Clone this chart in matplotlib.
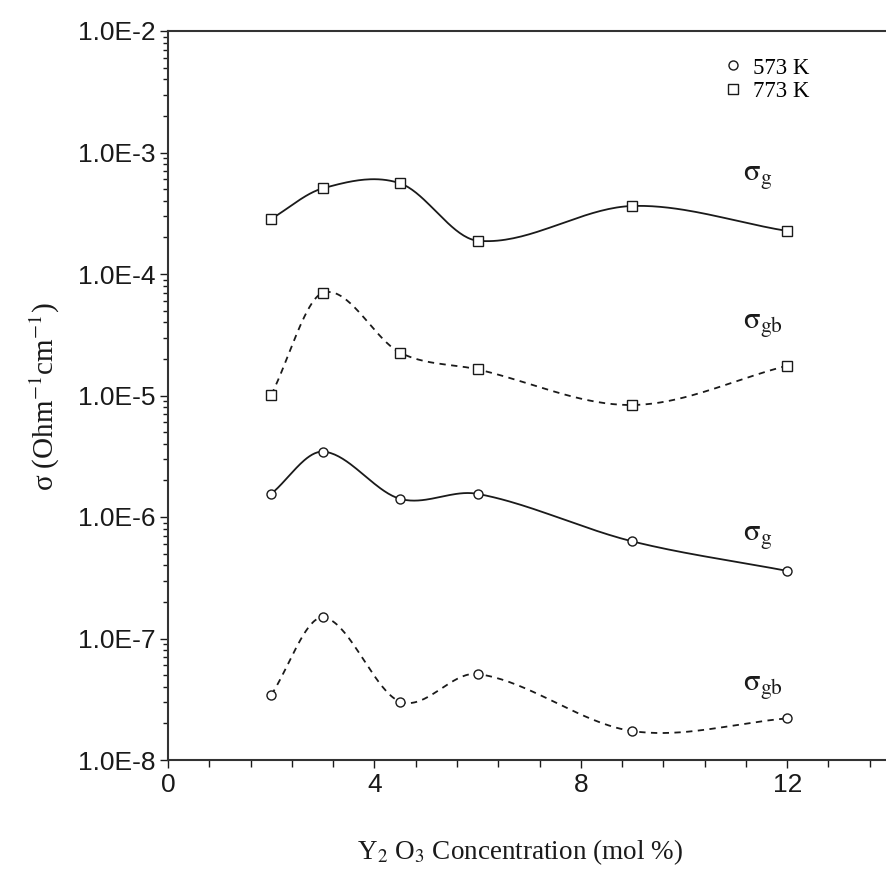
import numpy as np
import matplotlib
matplotlib.use('Agg')
import matplotlib.pyplot as plt
from matplotlib.ticker import LogLocator, FuncFormatter, MultipleLocator, NullFormatter
from matplotlib.lines import Line2D

# Y2O3 concentration (mol %)
conc = [2, 3, 4.5, 6, 9, 12]

# conductivities (Ohm^-1 cm^-1)
sg_773 = [2.84e-4, 5.07e-4, 5.57e-4, 1.88e-4, 3.63e-4, 2.26e-4]
sgb_773 = [1.01e-5, 7.0e-5, 2.25e-5, 1.64e-5, 8.35e-6, 1.76e-5]
sg_573 = [1.55e-6, 3.45e-6, 1.41e-6, 1.55e-6, 6.3e-7, 3.6e-7]
sgb_573 = [3.43e-8, 1.49e-7, 3.02e-8, 5.1e-8, 1.73e-8, 2.2e-8]

plt.rcParams['font.family'] = 'Liberation Sans'
plt.rcParams['mathtext.fontset'] = 'stix'
SERIF = 'Liberation Serif'
INK = '#1a1a1a'


def smooth(x, y, n=40):
    # Catmull-Rom style hermite curve through the points, in log10(y)
    x = np.asarray(x, float)
    y = np.log10(np.asarray(y, float))
    m = len(x)
    t = np.zeros(m)
    t[0] = (y[1] - y[0]) / (x[1] - x[0])
    t[-1] = (y[-1] - y[-2]) / (x[-1] - x[-2])
    t[1:-1] = (y[2:] - y[:-2]) / (x[2:] - x[:-2])
    xs_all, ys_all = [], []
    for i in range(m - 1):
        h = x[i + 1] - x[i]
        s = np.linspace(0, 1, n)
        h00 = 2 * s ** 3 - 3 * s ** 2 + 1
        h10 = s ** 3 - 2 * s ** 2 + s
        h01 = -2 * s ** 3 + 3 * s ** 2
        h11 = s ** 3 - s ** 2
        xs_all.append(x[i] + s * h)
        ys_all.append(h00 * y[i] + h10 * h * t[i] + h01 * y[i + 1] + h11 * h * t[i + 1])
    return np.concatenate(xs_all), 10 ** np.concatenate(ys_all)


fig = plt.figure(figsize=(8.86, 8.86), dpi=100)
ax = fig.add_axes([168 / 886, 1 - 760 / 886, 722.4 / 886, 729 / 886])

dash = (0, (3.5, 3))
series = [
    (sg_773, 's', '-'),
    (sgb_773, 's', dash),
    (sg_573, 'o', '-'),
    (sgb_573, 'o', dash),
]
for vals, mk, ls in series:
    xs, ys = smooth(conc, vals)
    ax.plot(xs, ys, color=INK, lw=1.3, ls=ls, zorder=2)
    ax.plot(conc, vals, mk, ms=7 if mk == 's' else 6.5, mfc='white',
            mec=INK, mew=1.0, ls='none', zorder=3)

ax.set_yscale('log')
ax.set_ylim(1e-8, 1e-2)
ax.set_xlim(0, 14)

ax.yaxis.set_major_locator(LogLocator(base=10, numticks=10))
ax.yaxis.set_minor_locator(LogLocator(base=10, subs=np.arange(2, 10), numticks=20))
ax.yaxis.set_minor_formatter(NullFormatter())
ax.yaxis.set_major_formatter(FuncFormatter(
    lambda v, p: '1.0E%d' % int(round(np.log10(v)))))
ax.xaxis.set_major_locator(MultipleLocator(4))
ax.xaxis.set_minor_locator(MultipleLocator(0.8))

ax.tick_params(which='both', direction='out', width=1.0, color=INK,
               labelsize=19, labelcolor=INK)
ax.tick_params(which='major', length=6, pad=3)
ax.tick_params(which='minor', length=3.5)
ax.tick_params(axis='x', which='minor', length=5)

for s in ['left', 'bottom', 'top']:
    ax.spines[s].set_linewidth(1.5)
    ax.spines[s].set_color('#333333')
ax.spines['right'].set_visible(False)

# curve labels
lab_kw = dict(fontsize=22, color=INK, ha='left', va='center')
ax.text(11.15, 6.3e-4, r'$\mathrm{\sigma_g}$', **lab_kw)
ax.text(11.15, 3.8e-5, r'$\mathrm{\sigma_{gb}}$', **lab_kw)
ax.text(11.15, 6.8e-7, r'$\mathrm{\sigma_g}$', **lab_kw)
ax.text(11.15, 4.0e-8, r'$\mathrm{\sigma_{gb}}$', **lab_kw)

handles = [
    Line2D([], [], marker='o', ls='none', ms=6.5, mfc='white', mec=INK, mew=1.0),
    Line2D([], [], marker='s', ls='none', ms=7, mfc='white', mec=INK, mew=1.0),
]
fig.legend(handles, ['573 K', '773 K'], loc='upper left',
           bbox_to_anchor=(712 / 886, 1 - 46 / 886), frameon=False,
           handlelength=0.8, handletextpad=0.5, labelspacing=0.1,
           borderpad=0, prop={'family': SERIF, 'size': 16.5})

fig.text(45 / 886, 1 - 397 / 886, r'σ (Ohm$^{-1}$cm$^{-1}$)', rotation=90,
         ha='center', va='center', family=SERIF, fontsize=21, color=INK)
fig.text(520 / 886, 1 - 852 / 886, r'Y$_2$ O$_3$ Concentration (mol %)',
         ha='center', va='center', family=SERIF, fontsize=19.5, color=INK)

fig.savefig('out.png', dpi=100)
